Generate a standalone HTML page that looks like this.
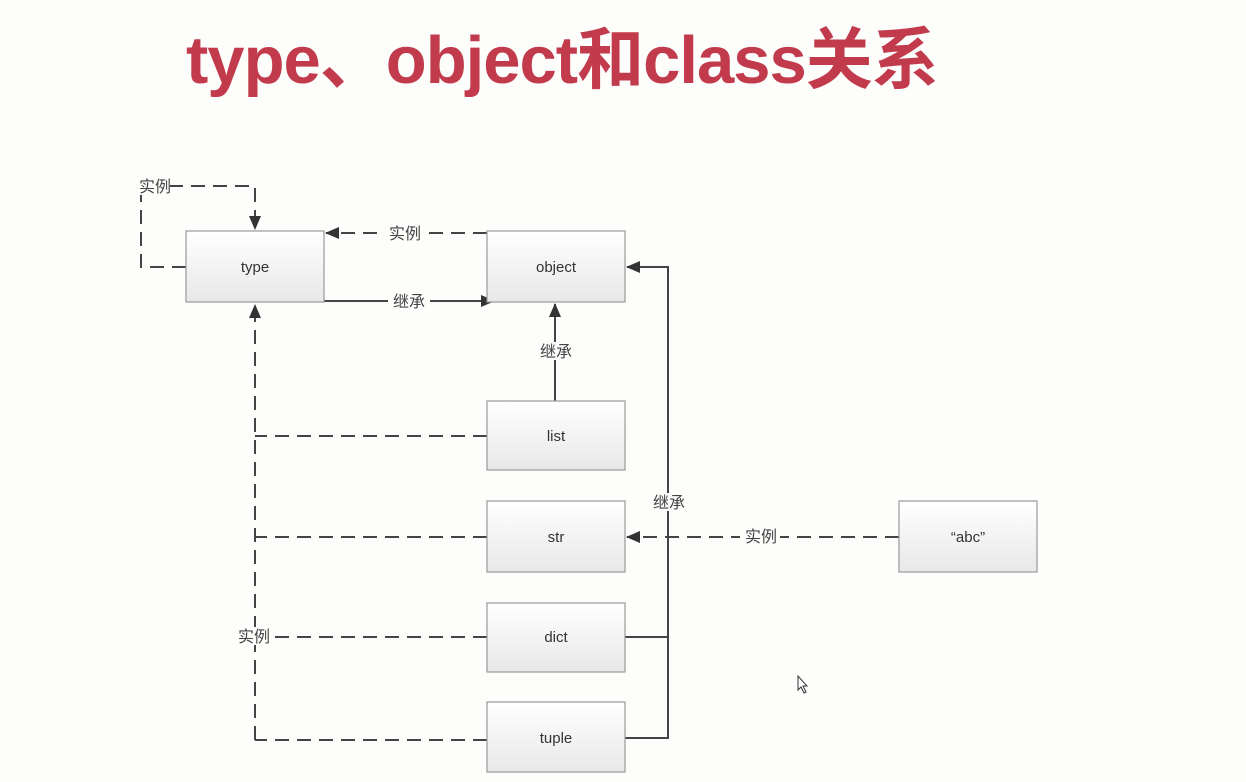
<!DOCTYPE html>
<html><head><meta charset="utf-8"><style>
body{margin:0;width:1246px;height:782px;background:#fdfdfb;overflow:hidden;position:relative;font-family:"Liberation Sans","Noto Sans CJK SC",sans-serif}
.t{position:absolute;left:186px;top:6px;font-size:67px;font-weight:bold;color:#c23b4d;letter-spacing:-1px;white-space:nowrap;font-family:"Liberation Sans","Noto Sans CJK SC",sans-serif}
</style></head><body>
<div class="t">type、object和class关系</div>
<svg width="1246" height="782" style="position:absolute;left:0;top:0" font-family="Liberation Sans, Noto Sans CJK SC, sans-serif">
<defs>
<linearGradient id="g" x1="0" y1="0" x2="0" y2="1"><stop offset="0" stop-color="#ffffff"/><stop offset="1" stop-color="#e8e8e8"/></linearGradient>
<marker id="a" markerWidth="14" markerHeight="12" refX="13" refY="6" orient="auto" markerUnits="userSpaceOnUse"><path d="M0,0 L14,6 L0,12 z" fill="#333"/></marker>
</defs>
<g stroke="#444" stroke-width="2" fill="none">
<path d="M186,267 H141 V186 H255 V229" stroke-dasharray="14,8" marker-end="url(#a)"/>
<path d="M487,233 H326" stroke-dasharray="14,8" marker-end="url(#a)"/>
<path d="M324,301 H494" marker-end="url(#a)"/>
<path d="M555,401 V304" marker-end="url(#a)"/>
<path d="M255,740 V305" stroke-dasharray="14,8" marker-end="url(#a)"/>
<path d="M487,436 H255 M487,537 H255 M487,637 H255 M487,740 H255" stroke-dasharray="14,8"/>
<path d="M625,738 H668 V267 H627" marker-end="url(#a)"/>
<path d="M625,637 H668"/>
<path d="M899,537 H627" stroke-dasharray="14,8" marker-end="url(#a)"/>
</g>
<g fill="#fdfdfb">
<rect x="136" y="177" width="34" height="18"/><rect x="385" y="224" width="40" height="18"/>
<rect x="388" y="292" width="42" height="18"/><rect x="536" y="342" width="40" height="18"/>
<rect x="649" y="493" width="40" height="18"/><rect x="740" y="527" width="40" height="18"/>
<rect x="234" y="627" width="40" height="18"/>
</g>
<g font-size="16" fill="#444" text-anchor="middle">
<text x="155" y="192">实例</text><text x="405" y="239">实例</text><text x="409" y="307">继承</text>
<text x="556" y="357">继承</text><text x="669" y="508">继承</text><text x="761" y="542">实例</text>
<text x="254" y="642">实例</text>
</g>
<g stroke="#999" stroke-width="1.2" fill="url(#g)">
<rect x="186" y="231" width="138" height="71"/><rect x="487" y="231" width="138" height="71"/>
<rect x="487" y="401" width="138" height="69"/><rect x="487" y="501" width="138" height="71"/>
<rect x="487" y="603" width="138" height="69"/><rect x="487" y="702" width="138" height="70"/>
<rect x="899" y="501" width="138" height="71"/>
</g>
<g font-size="15" fill="#333" text-anchor="middle">
<text x="255" y="272">type</text><text x="556" y="272">object</text><text x="556" y="441">list</text>
<text x="556" y="542">str</text><text x="556" y="642">dict</text><text x="556" y="743">tuple</text>
<text x="968" y="542">“abc”</text>
</g>
<path d="M798,676 V690 L801,687 L804,693 L806,692 L803,686 L807,686 z" fill="#fff" stroke="#333" stroke-width="1"/>
</svg>
</body></html>
